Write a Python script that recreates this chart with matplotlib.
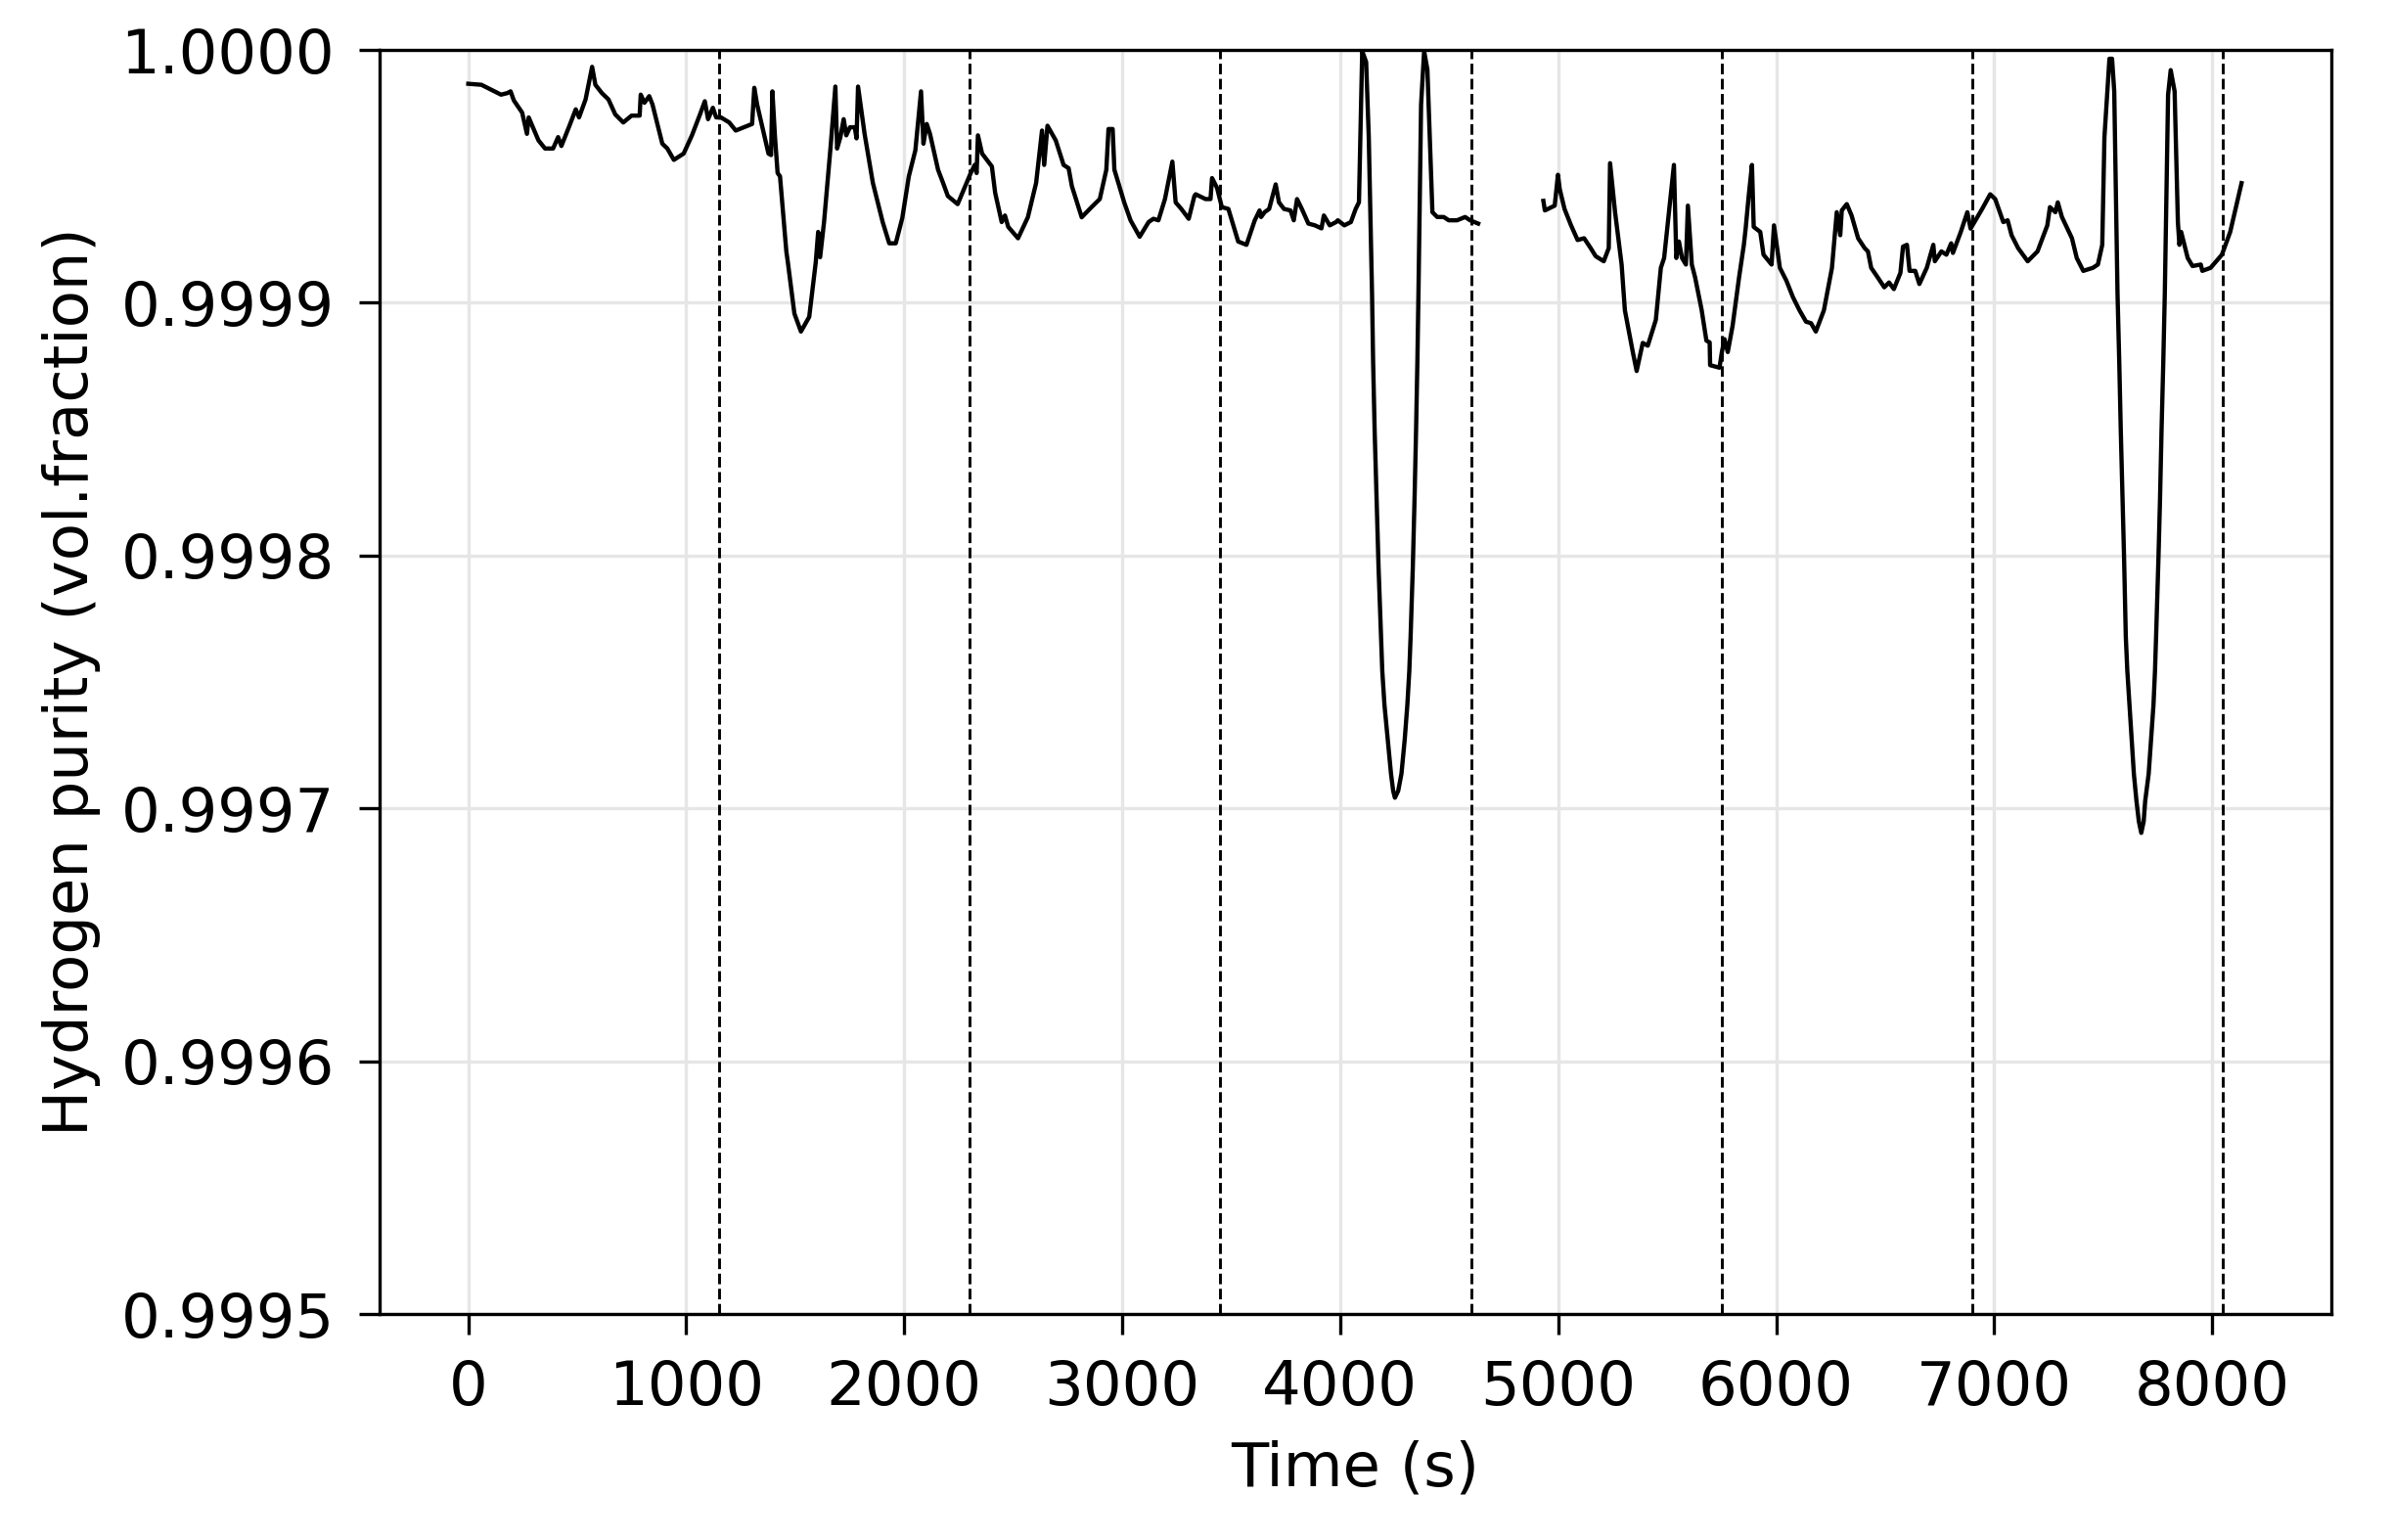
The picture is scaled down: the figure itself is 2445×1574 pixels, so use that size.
import numpy as np
import matplotlib
matplotlib.use("Agg")
import matplotlib.pyplot as plt
from matplotlib.ticker import FormatStrFormatter

# ---- data: time (s) and impurity (ppm) ----
t_seg1 = [0, 60, 150, 179, 194, 209, 247, 269, 277, 322, 352, 389, 412, 427, 464, 493, 508, 538, 568, 583,
          613, 643, 674, 711, 749, 786, 791, 808, 830, 845, 890, 913, 943, 988, 1026, 1063, 1085, 1100, 1122, 1137,
          1159, 1197, 1227, 1302, 1312, 1325, 1377, 1389, 1395, 1407, 1419, 1430, 1459, 1466, 1496, 1526, 1564, 1594, 1605, 1614,
          1632, 1662, 1684, 1692, 1707, 1722, 1734, 1751, 1773, 1781, 1788, 1818, 1856, 1901, 1931, 1961, 1991, 2021, 2051, 2077,
          2088, 2103, 2118, 2155, 2178, 2200, 2245, 2305, 2323, 2332, 2338, 2357, 2402, 2417, 2447, 2462, 2477, 2522, 2567, 2605,
          2632, 2642, 2657, 2695, 2731, 2754, 2769, 2814, 2859, 2897, 2927, 2937, 2956, 2964, 3009, 3038, 3080, 3121, 3143, 3166,
          3196, 3230, 3245, 3271, 3305, 3331, 3337, 3382, 3405, 3412, 3435, 3457, 3487, 3532, 3570, 3608, 3630, 3637, 3653, 3674,
          3704, 3719, 3742, 3772, 3787, 3802, 3824, 3854, 3884, 3914, 3925, 3952, 3981, 3989, 4019, 4049, 4071, 4086, 4101, 4119,
          4131, 4146, 4151, 4158, 4167, 4176, 4187, 4193, 4203, 4218, 4233, 4243, 4251, 4266, 4281, 4296, 4308, 4317, 4323, 4333,
          4341, 4348, 4354, 4359, 4371, 4385, 4400, 4423, 4445, 4475, 4498, 4536, 4573, 4596, 4633]
ppm_seg1 = [13.4, 13.8, 17.7, 17.1, 16.4, 20.0, 24.8, 33.2, 26.7, 35.8, 39.0, 39.0, 34.5, 38.0, 30.0, 23.5, 26.7, 19.6, 6.7, 13.8,
            17.1, 19.6, 25.5, 28.7, 26.0, 26.0, 17.7, 20.9, 18.3, 21.6, 37.1, 39.0, 43.5, 41.0, 33.8, 25.5, 20.3, 27.4, 22.9, 26.7,
            26.7, 28.7, 31.9, 29.3, 15.0, 21.6, 41.0, 41.6, 16.4, 34.5, 48.7, 50.0, 79.7, 84.0, 104.3, 111.4, 105.6, 84.0, 72.0, 82.0,
            68.1, 38.4, 14.5, 39.0, 34.5, 27.4, 33.8, 30.6, 30.6, 35.0, 14.5, 33.2, 52.6, 68.1, 76.5, 76.5, 66.5, 50.0, 39.7, 16.4,
            37.1, 29.3, 33.2, 47.4, 52.6, 57.8, 61.0, 48.7, 45.5, 48.7, 33.8, 41.0, 46.1, 56.5, 68.1, 65.5, 70.0, 74.5, 66.2, 52.6,
            31.9, 45.5, 30.0, 35.8, 45.5, 46.8, 53.9, 66.2, 62.2, 59.0, 47.4, 31.3, 31.3, 47.4, 60.3, 67.4, 73.9, 68.1, 66.8, 67.4,
            59.0, 44.2, 60.3, 62.9, 66.8, 57.8, 57.1, 59.0, 59.0, 50.7, 54.6, 62.2, 62.9, 75.8, 77.1, 67.4, 63.5, 66.1, 64.2, 62.9,
            53.2, 60.3, 62.9, 63.5, 67.4, 59.0, 62.9, 68.7, 69.4, 70.6, 65.5, 69.4, 68.1, 67.4, 69.4, 68.1, 62.9, 60.3, 0.5, 4.8,
            34.4, 96.3, 123.5, 150.6, 177.8, 204.9, 232.0, 245.6, 259.1, 272.7, 286.3, 293.1, 295.8, 293.1, 286.3, 272.7, 259.1, 245.6, 232.0, 204.9,
            177.8, 150.6, 123.5, 96.3, 21.7, 0.5, 7.8, 64.2, 66.1, 66.1, 67.4, 67.4, 66.1, 67.4, 68.7]

t_seg2 = [4932, 4939, 4984, 4999, 5007, 5029, 5059, 5089, 5119, 5149, 5172, 5209, 5232, 5238, 5261, 5291, 5306, 5343, 5360, 5388,
          5411, 5448, 5471, 5486, 5531, 5542, 5554, 5568, 5586, 5595, 5613, 5628, 5658, 5680, 5695, 5697, 5740, 5751, 5763, 5778,
          5800, 5830, 5852, 5860, 5874, 5889, 5897, 5927, 5942, 5979, 5990, 6017, 6047, 6077, 6107, 6137, 6160, 6182, 6219, 6256,
          6278, 6294, 6301, 6324, 6346, 6376, 6406, 6421, 6436, 6466, 6496, 6518, 6540, 6570, 6582, 6600, 6612, 6638, 6657, 6691,
          6721, 6728, 6758, 6781, 6803, 6811, 6847, 6877, 6892, 6945, 6982, 7005, 7042, 7062, 7080, 7110, 7154, 7199, 7244, 7256,
          7281, 7292, 7311, 7357, 7379, 7409, 7453, 7476, 7496, 7506, 7529, 7541, 7551, 7566, 7574, 7581, 7589, 7596, 7604, 7611,
          7621, 7631, 7641, 7653, 7664, 7675, 7686, 7693, 7709, 7720, 7731, 7738, 7743, 7754, 7761, 7768, 7776, 7783, 7798, 7810,
          7828, 7843, 7850, 7858, 7888, 7910, 7948, 7955, 7993, 8045, 8083, 8135]
ppm_seg2 = [59.7, 63.5, 61.6, 49.4, 55.0, 62.9, 69.4, 75.2, 74.5, 78.4, 81.6, 83.6, 78.4, 44.8, 64.2, 84.9, 103.0, 119.8, 127.0, 115.9,
            117.0, 106.8, 86.2, 82.3, 45.5, 82.3, 75.8, 82.3, 84.9, 61.6, 84.9, 89.9, 102.8, 115.0, 115.7, 124.7, 125.7, 119.5, 114.4, 119.5,
            109.2, 89.9, 77.0, 70.7, 57.8, 45.5, 70.0, 72.0, 81.0, 84.9, 69.4, 86.2, 91.3, 97.8, 103.0, 107.5, 108.1, 111.4, 103.0, 86.2,
            64.2, 73.3, 63.5, 61.0, 65.5, 74.5, 78.4, 79.7, 86.2, 90.0, 93.9, 92.0, 94.6, 88.2, 77.8, 77.1, 87.4, 87.4, 92.6, 86.2,
            77.1, 83.6, 79.7, 81.0, 76.5, 80.3, 72.0, 64.2, 70.7, 62.9, 57.1, 59.0, 68.1, 67.4, 73.3, 78.4, 83.6, 79.7, 69.4, 62.2,
            64.2, 60.3, 66.1, 74.5, 82.3, 87.4, 86.2, 84.9, 77.1, 34.5, 3.5, 3.5, 16.4, 96.3, 123.5, 150.6, 177.8, 200.6, 232.0, 245.6,
            259.1, 272.7, 286.3, 297.1, 305.2, 309.7, 305.2, 297.1, 286.3, 272.7, 259.1, 245.6, 232.0, 200.6, 177.8, 150.6, 123.5, 96.3, 17.7, 8.0,
            16.4, 68.1, 77.1, 72.0, 82.3, 85.5, 84.9, 87.4, 86.2, 81.0, 72.0, 52.7]

cycle_boundaries = [1150, 2300, 3450, 4600, 5750, 6900, 8050]
x_ticks = [0, 1000, 2000, 3000, 4000, 5000, 6000, 7000, 8000]
y_ticks = [0.9995, 0.9996, 0.9997, 0.9998, 0.9999, 1.0000]

purity1 = 1 - np.array(ppm_seg1) * 1e-6
purity2 = 1 - np.array(ppm_seg2) * 1e-6

fig = plt.figure(figsize=(2445 / 300, 1574 / 300), dpi=300)
ax = fig.add_axes([388 / 2445, 1 - 1343 / 1574, (2383 - 388) / 2445, (1343 - 51) / 1574])

ax.plot(t_seg1, purity1, color='black', lw=1.05, zorder=3)
ax.plot(t_seg2, purity2, color='black', lw=1.05, zorder=3)
for xb in cycle_boundaries:
    ax.axvline(xb, color='black', ls='--', lw=0.7, zorder=2)

ax.set_xlim(-407, 8547)
ax.set_ylim(0.9995, 1.0000)
ax.set_xticks(x_ticks)
ax.set_yticks(y_ticks)
ax.yaxis.set_major_formatter(FormatStrFormatter('%.4f'))
ax.tick_params(labelsize=15, length=5, pad=6)
ax.grid(True, color='0.9', lw=0.8, zorder=0)
ax.set_axisbelow(True)
ax.set_xlabel('Time (s)', fontsize=15, labelpad=5.5)
ax.set_ylabel('Hydrogen purity (vol.fraction)', fontsize=15, labelpad=5)

fig.savefig('out.png', dpi=300)
